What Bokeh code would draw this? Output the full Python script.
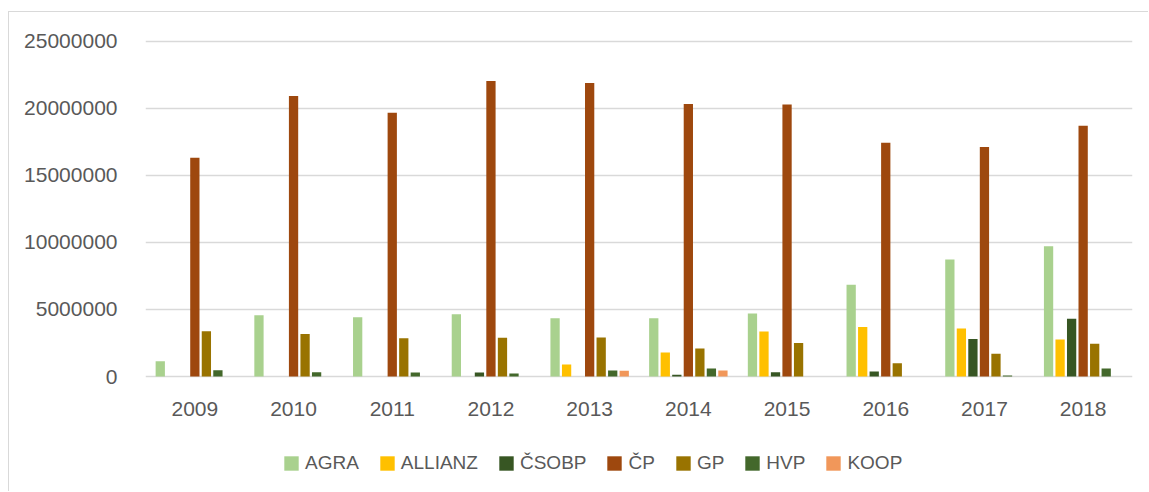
from bokeh.plotting import figure
from bokeh.models import (ColumnDataSource, FactorRange, Range1d, FixedTicker,
                          BasicTickFormatter, Legend, LegendItem)
from bokeh.core.properties import value
from bokeh.transform import dodge
from bokeh.embed import file_html
from bokeh.resources import INLINE

years = ["2009", "2010", "2011", "2012", "2013", "2014", "2015", "2016", "2017", "2018"]
series = ["AGRA", "ALLIANZ", "ČSOBP", "ČP", "GP", "HVP", "KOOP"]

agra    = [1140000, 4570000, 4420000, 4650000, 4350000, 4350000, 4700000, 6840000, 8720000, 9710000]
allianz = [0, 0, 0, 0, 900000, 1790000, 3360000, 3700000, 3580000, 2750000]
csobp   = [0, 0, 0, 300000, 0, 130000, 320000, 370000, 2790000, 4310000]
cp      = [16310000, 20920000, 19660000, 22040000, 21890000, 20320000, 20280000, 17420000, 17120000, 18690000]
gp      = [3380000, 3160000, 2860000, 2880000, 2910000, 2090000, 2490000, 980000, 1700000, 2440000]
hvp     = [470000, 320000, 300000, 220000, 450000, 600000, 0, 0, 70000, 600000]
koop    = [0, 0, 0, 0, 420000, 450000, 0, 0, 0, 0]
y_ticks = [0, 5000000, 10000000, 15000000, 20000000, 25000000]

colors = ["#A9D18E", "#FFC000", "#375623", "#9E480E", "#997300", "#43682B", "#F1975A"]
values = [agra, allianz, csobp, cp, gp, hvp, koop]

data = {"year": years, "base": [0] * len(years)}
for name, vals in zip(series, values):
    data[name] = vals
source = ColumnDataSource(data)

FONT = "Liberation Sans"
GREY = "#595959"

# frame extends below the zero line so the category labels and legend sit inside it
p = figure(x_range=FactorRange(*years, range_padding=0),
           y_range=Range1d(-7679700, 25127000),
           frame_width=987, frame_height=440,
           min_border_left=136, min_border_right=16,
           min_border_top=27, min_border_bottom=12,
           output_backend="svg", toolbar_location=None,
           background_fill_color="white", border_fill_color="white")
p.styles = {"margin-left": "8px", "margin-top": "11px",
            "border-left": "1.5px solid #d9d9d9", "border-top": "1.5px solid #d9d9d9"}
p.outline_line_color = None

pitch = 0.1168
bw = 0.094
items = []
for i, (name, col) in enumerate(zip(series, colors)):
    r = p.vbar(x=dodge("year", (i - 3) * pitch, range=p.x_range), top=name,
               width=bw, source=source, fill_color=col, line_color=None)
    items.append(LegendItem(label=name, renderers=[r]))

# category labels
p.text(x="year", y="base", text="year", source=source, y_offset=32,
       text_align="center", text_baseline="middle",
       text_font=value(FONT), text_font_size="21px", text_color=GREY)

p.xaxis.visible = False
p.xgrid.grid_line_color = None

p.yaxis.ticker = FixedTicker(ticks=y_ticks)
p.yaxis.formatter = BasicTickFormatter(use_scientific=False)
p.yaxis.axis_line_color = None
p.yaxis.major_tick_line_color = None
p.yaxis.minor_tick_line_color = None
p.yaxis.major_label_text_font = FONT
p.yaxis.major_label_text_font_size = "21px"
p.yaxis.major_label_text_color = GREY
p.yaxis.major_label_standoff = 22
p.ygrid.grid_line_color = "#d9d9d9"
p.ygrid.grid_line_width = 1.5

legend = Legend(items=items, orientation="horizontal", location=(137, 5),
                border_line_color=None, background_fill_alpha=0,
                padding=0, margin=0, spacing=19, glyph_width=18, glyph_height=18,
                label_standoff=5, label_text_font=FONT, label_text_font_size="19px",
                label_text_color=GREY, label_height=20)
p.add_layout(legend, "center")

open("out.html", "w").write(file_html(p, INLINE))
